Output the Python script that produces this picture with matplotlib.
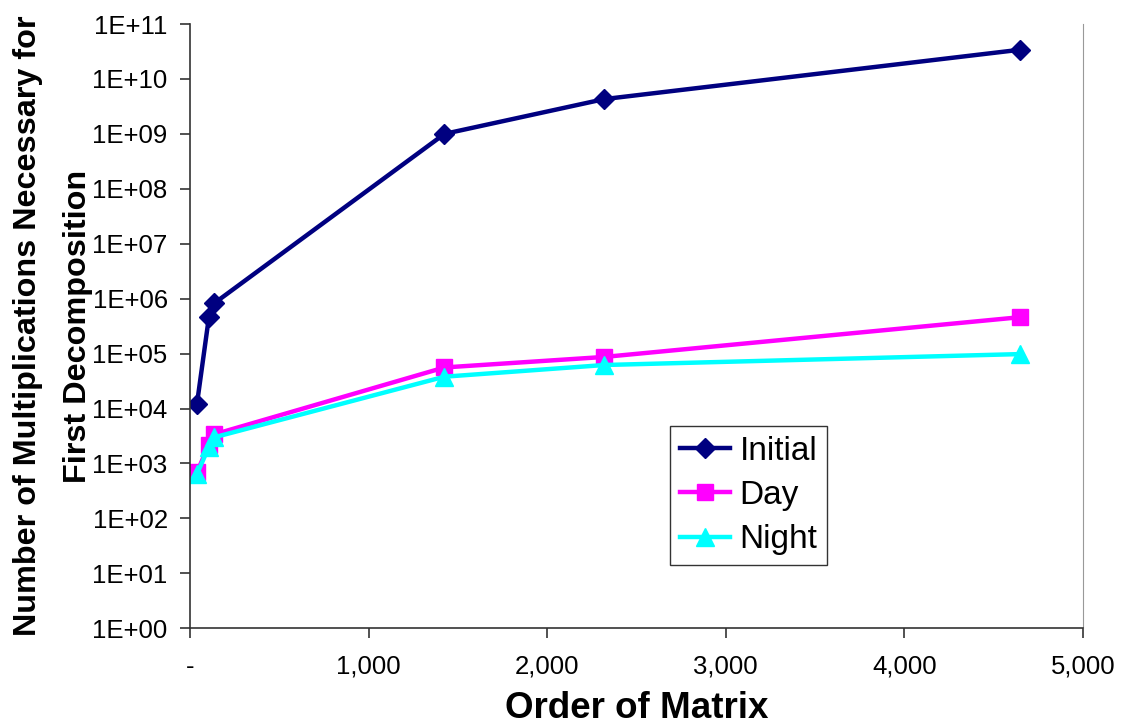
import math
import matplotlib
matplotlib.use("Agg")
import matplotlib.pyplot as plt
from matplotlib.ticker import FixedLocator, FuncFormatter

# matrix order vs. multiplications for first decomposition
order = [39, 106, 137, 1425, 2320, 4647]
initial = [1.2e4, 4.6e5, 8.3e5, 1.0e9, 4.3e9, 3.4e10]
day = [690, 2.2e3, 3.4e3, 5.6e4, 8.7e4, 4.6e5]
night = [640, 2.0e3, 3.0e3, 3.8e4, 6.2e4, 9.8e4]

x_ticks = [0, 1000, 2000, 3000, 4000, 5000]
y_ticks = [10.0 ** k for k in range(0, 12)]

plt.rcParams["font.family"] = ["Liberation Sans", "DejaVu Sans"]

fig = plt.figure(figsize=(11.24, 7.28), dpi=100)
ax = fig.add_axes([0.169, 0.137, 0.7945, 0.830])

ax.plot(order, initial, color="#000080", lw=3.2, marker="D", ms=10, label="Initial")
ax.plot(order, day, color="#FF00FF", lw=3.2, marker="s", ms=12, label="Day")
ax.plot(order, night, color="#00FFFF", lw=3.2, marker="^", ms=13, label="Night")

ax.set_yscale("log")
ax.set_ylim(1, 1e11)
ax.set_xlim(0, 5000)
ax.yaxis.set_major_locator(FixedLocator(y_ticks))
ax.yaxis.set_minor_locator(FixedLocator([]))
ax.yaxis.set_major_formatter(FuncFormatter(lambda v, p: "1E+%02d" % round(math.log10(v))))
ax.xaxis.set_major_locator(FixedLocator(x_ticks))
ax.xaxis.set_major_formatter(FuncFormatter(lambda v, p: "-" if v == 0 else f"{int(v):,}"))

ax.tick_params(axis="both", labelsize=18.5, direction="out", length=7, width=1.2, color="#333333")
ax.tick_params(axis="y", pad=9)
ax.tick_params(axis="x", pad=12)
ax.spines["top"].set_visible(False)
ax.spines["right"].set_color("#999999")
ax.spines["left"].set_color("#333333")
ax.spines["bottom"].set_color("#333333")
ax.spines["left"].set_linewidth(1.2)
ax.spines["bottom"].set_linewidth(1.2)

ax.set_xlabel("Order of Matrix", fontsize=26.5, fontweight="bold", labelpad=9)
ax.set_ylabel("Number of Multiplications Necessary for\nFirst Decomposition",
              fontsize=23.3, fontweight="bold", linespacing=1.85)
ax.yaxis.set_label_coords(-0.109, 0.5)

leg = ax.legend(loc="lower left", bbox_to_anchor=(0.537, 0.104), fontsize=24,
                frameon=True, fancybox=False, handlelength=1.5, borderpad=0.3,
                labelspacing=0.4, handletextpad=0.3, borderaxespad=0)
leg.get_frame().set_edgecolor("black")
leg.get_frame().set_linewidth(1.0)

fig.savefig("out.png", dpi=100)
